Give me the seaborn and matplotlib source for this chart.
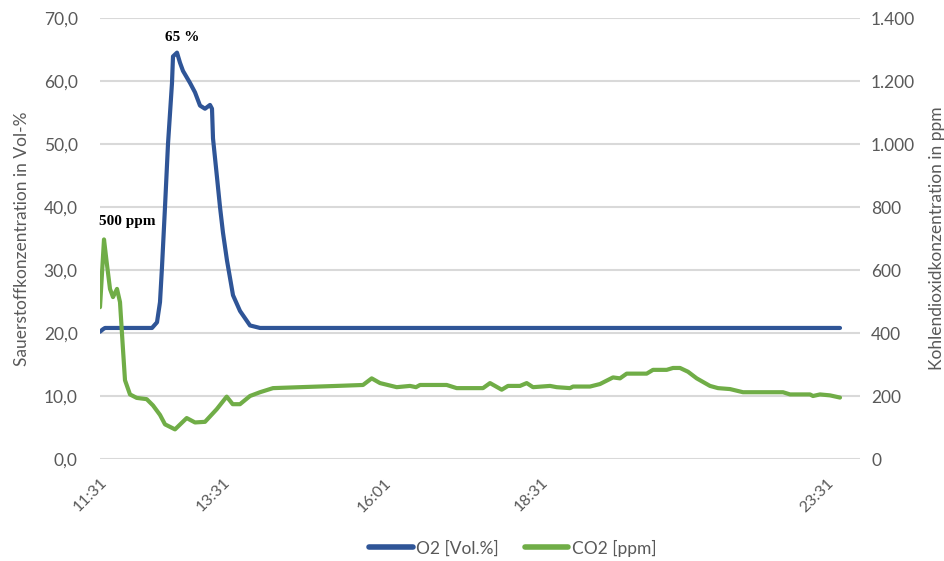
import matplotlib
matplotlib.use("Agg")
import matplotlib.pyplot as plt
import matplotlib.ticker as mticker
import seaborn as sns
import pandas as pd

# ---- data (x = sample position along the category axis) ----
o2_x = [0, 3, 5, 52, 57, 60, 62, 65, 68, 72, 73, 77, 80, 83, 90, 95, 100, 105, 110,
        112, 113, 117, 120, 123, 127, 133, 140, 150, 160, 740]
o2_y = [20.2, 20.6, 20.8, 20.8, 21.7, 24.9, 30.5, 40.0, 50.0, 59.7, 63.9, 64.5, 62.9,
        61.6, 59.7, 58.2, 56.1, 55.6, 56.2, 55.6, 50.9, 44.7, 40.0, 35.9, 31.5, 26.0,
        23.5, 21.2, 20.8, 20.8]

co2_x = [0, 4, 6.7, 10, 13, 17, 20, 22.7, 25, 30, 36.7, 46.7, 53, 60, 65, 75, 86.7, 95,
         105, 116.7, 126.7, 132.7, 140, 150, 160, 173, 200, 236.7, 263, 271.7, 280,
         296.7, 310, 316, 320, 346.7, 356.7, 383, 390, 401.7, 408, 420, 426.7, 433,
         450, 456.7, 470, 473, 490, 500, 513, 520, 526.7, 546.7, 553, 566.7, 573, 580,
         588, 596.7, 610, 618, 630, 643, 683, 690, 710, 713, 720, 730, 740]
co2_y = [482, 697, 624, 540, 514, 540, 498, 362, 250, 205, 194, 190, 170, 140, 110, 94,
         130, 116, 118, 158, 198, 174, 174, 200, 212, 225, 228, 232, 235, 256, 241,
         228, 232, 228, 235, 235, 225, 225, 241, 220, 232, 232, 241, 228, 232, 228,
         225, 230, 230, 238, 259, 256, 271, 271, 283, 283, 289, 289, 277, 256, 232,
         225, 222, 212, 212, 205, 205, 200, 205, 202, 195]

tick_pos = [0, 123, 284, 441, 727]
tick_labels = ["11:31", "13:31", "16:01", "18:31", "23:31"]

left_ticks = [0, 10, 20, 30, 40, 50, 60, 70]
right_ticks = [0, 200, 400, 600, 800, 1000, 1200, 1400]

o2_name = "O2 [Vol.%]"
co2_name = "CO2 [ppm]"
o2_color = "#2F5597"
co2_color = "#70AD47"

df_o2 = pd.DataFrame({"x": o2_x, "y": o2_y})
df_co2 = pd.DataFrame({"x": co2_x, "y": co2_y})

sns.set_style("white")
plt.rcParams["font.family"] = ["Lato", "DejaVu Sans"]
gray = "#595959"

fig = plt.figure(figsize=(9.44, 5.61), dpi=100)
L, R, B, T = 100 / 944, 860 / 944, 1 - 459 / 561, 1 - 18 / 561
ax = fig.add_axes([L, B, R - L, T - B])
ax2 = ax.twinx()

sns.lineplot(data=df_o2, x="x", y="y", ax=ax, color=o2_color, linewidth=3.0,
             label=o2_name, legend=False, solid_capstyle="round", solid_joinstyle="round")
sns.lineplot(data=df_co2, x="x", y="y", ax=ax2, color=co2_color, linewidth=3.0,
             label=co2_name, legend=False, solid_capstyle="round", solid_joinstyle="round")

ax.set_xlim(0, 760)
ax.set_ylim(0, 70)
ax2.set_ylim(0, 1400)
ax.set_yticks(left_ticks)
ax2.set_yticks(right_ticks)
ax.yaxis.set_major_formatter(mticker.FuncFormatter(lambda v, p: f"{v:.1f}".replace(".", ",")))
ax2.yaxis.set_major_formatter(mticker.FuncFormatter(lambda v, p: f"{int(v):,}".replace(",", ".")))

ax.set_xticks(tick_pos)
ax.set_xticklabels(tick_labels, rotation=45, ha="right", rotation_mode="anchor")

ax.grid(axis="y", color="#D9D9D9", linewidth=1.5)
ax.grid(axis="x", visible=False)
ax2.grid(False)
ax.set_axisbelow(True)

for a in (ax, ax2):
    for s in a.spines.values():
        s.set_visible(False)

ax.tick_params(axis="y", length=0, pad=16, labelsize=12.5, labelcolor=gray)
ax2.tick_params(axis="y", length=0, pad=8, labelsize=12.5, labelcolor=gray)
ax.tick_params(axis="x", length=0, pad=12, labelsize=11.5, labelcolor=gray)

ax.set_xlabel("")
ax.set_ylabel("Sauerstoffkonzentration in Vol-%", fontsize=12.5, color=gray, labelpad=10)
ax2.set_ylabel("Kohlendioxidkonzentration in ppm", fontsize=12.5, color=gray, labelpad=10)
ax2.set_xlabel("")

ax2.text(27, 754, "500 ppm", family="Liberation Serif", fontweight="bold",
         fontsize=11, ha="center", va="center", color="black")
ax2.text(82, 1338, "65 %", family="Liberation Serif", fontweight="bold",
         fontsize=11, ha="center", va="center", color="black")

h1, l1 = ax.get_legend_handles_labels()
h2, l2 = ax2.get_legend_handles_labels()
leg = fig.legend(h1 + h2, l1 + l2, loc="center", bbox_to_anchor=(513 / 944, 1 - 548 / 561),
                 ncol=2, frameon=False, fontsize=12.5, handlelength=2.5,
                 columnspacing=1.5, handletextpad=0.2)
for t in leg.get_texts():
    t.set_color(gray)
for ln in leg.get_lines():
    ln.set_linewidth(4)

fig.savefig("out.png", dpi=100)
